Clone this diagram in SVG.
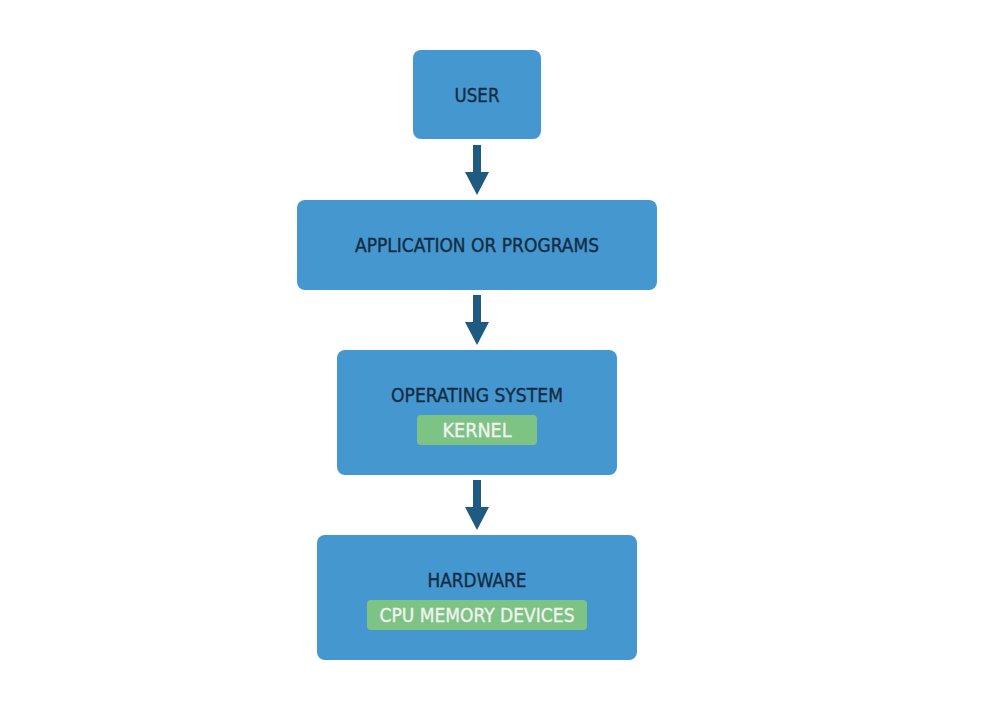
<svg xmlns="http://www.w3.org/2000/svg" width="1000" height="710" viewBox="0 0 1000 710">
<style>
.box{fill:#4597d0}
.tag{fill:#7dc383}
.t{font-family:"DejaVu Sans Condensed","DejaVu Sans",sans-serif;font-size:19px;fill:#142c42;stroke:#142c42;stroke-width:0.35;text-anchor:middle}
.g{font-family:"DejaVu Sans Condensed","DejaVu Sans",sans-serif;font-size:19px;fill:#f2f2f2;stroke:#f2f2f2;stroke-width:0.35;text-anchor:middle}
.arr{fill:#1f5a80}
</style>
<rect width="1000" height="710" fill="#ffffff"/>
<g id="user">
<rect class="box" x="413" y="50" width="128" height="89" rx="8"/>
<text class="t" x="477" y="102" textLength="45" lengthAdjust="spacingAndGlyphs">USER</text>
</g>
<g id="app">
<rect class="box" x="297" y="200" width="360" height="90" rx="8"/>
<text class="t" x="477" y="252" textLength="244" lengthAdjust="spacingAndGlyphs">APPLICATION OR PROGRAMS</text>
</g>
<g id="os">
<rect class="box" x="337" y="350" width="280" height="125" rx="8"/>
<text class="t" x="477" y="402" textLength="172" lengthAdjust="spacingAndGlyphs">OPERATING SYSTEM</text>
<rect class="tag" x="417" y="415" width="120" height="30" rx="4"/>
<text class="g" x="477" y="437" textLength="69" lengthAdjust="spacingAndGlyphs">KERNEL</text>
</g>
<g id="hardware">
<rect class="box" x="317" y="535" width="320" height="125" rx="8"/>
<text class="t" x="477" y="587" textLength="99" lengthAdjust="spacingAndGlyphs">HARDWARE</text>
<rect class="tag" x="367" y="600" width="220" height="30" rx="4"/>
<text class="g" x="477" y="622" textLength="195" lengthAdjust="spacingAndGlyphs">CPU MEMORY DEVICES</text>
</g>
<g id="connectors">
<path class="arr" d="M473 145 H481 V172 H489 L477 195 L465 172 H473 Z"/>
<path class="arr" d="M473 295 H481 V322 H489 L477 345 L465 322 H473 Z"/>
<path class="arr" d="M473 480 H481 V507 H489 L477 530 L465 507 H473 Z"/>
</g>
</svg>
